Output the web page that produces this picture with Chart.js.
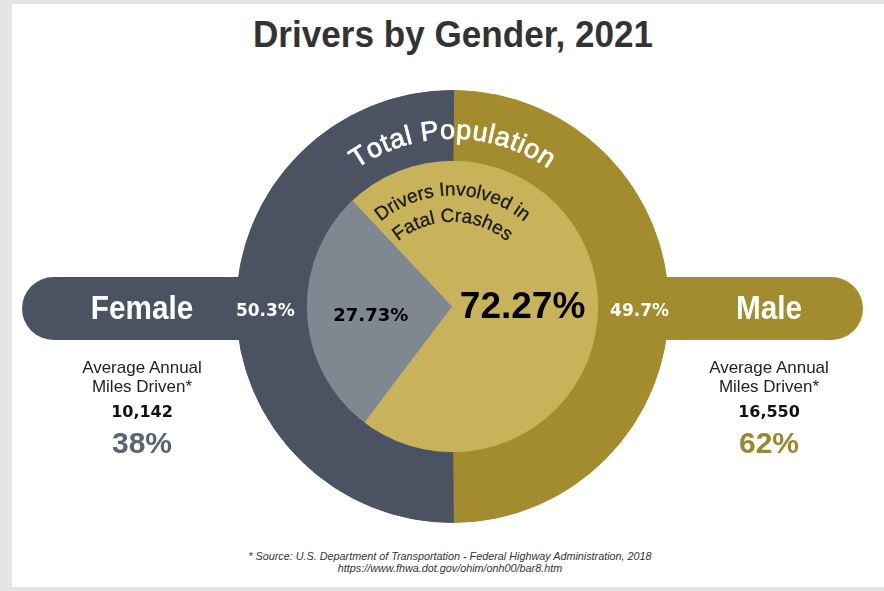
<!DOCTYPE html>
<html>
<head>
<meta charset="utf-8">
<script src="https://cdn.jsdelivr.net/npm/chart.js@4.4.1/dist/chart.umd.min.js"></script>
<style>
  body { margin: 0; background: #e5e5e5; width: 884px; height: 591px; overflow: hidden; position: relative; font-family: "Liberation Sans", Arial, sans-serif; }
  .panel { position: absolute; left: 12px; top: 4px; width: 872px; height: 583px; background: #fff; }
  .abs { position: absolute; white-space: nowrap; line-height: 1; }
  .title { left: 0; width: 906px; text-align: center; top: 14px; font: bold 36px "Liberation Sans", sans-serif; color: #333; transform: scaleX(0.975); transform-origin: 453px 0; }
  .pill { position: absolute; top: 277px; height: 63px; z-index: 1; }
  .pill.left { left: 22px; width: 431px; background: #4b5363; border-radius: 32px 0 0 32px; }
  .pill.right { left: 452px; width: 411px; background: #a38c2d; border-radius: 0 32px 32px 0; }
  #wrap { position: absolute; left: 236px; top: 90px; width: 433px; height: 433px; z-index: 2; }
  .col { position: absolute; width: 240px; text-align: center; z-index: 3; }
  .col div { position: absolute; left: 0; width: 240px; white-space: nowrap; line-height: 1; }
  .sex { top: 291px; font: bold 33px "Liberation Sans", sans-serif; color: #fff; transform: scaleX(0.9); }
  .avg1 { top: 358.6px; font-size: 17px; color: #222; }
  .avg2 { top: 377.6px; font-size: 17px; color: #222; }
  .miles { top: 403.5px; font: bold 16px "DejaVu Sans", sans-serif; color: #111; }
  .share { top: 427.6px; font: bold 30px "Liberation Sans", sans-serif; }
  .note { left: 0; width: 900px; text-align: center; top: 550px; font-style: italic; font-size: 10.8px; line-height: 12px; color: #333; }
</style>
</head>
<body>
<div class="panel"></div>
<div class="abs title">Drivers by Gender, 2021</div>
<div class="pill left"></div>
<div class="pill right"></div>
<div id="wrap"><canvas id="myChart" width="433" height="433"></canvas></div>
<div class="col" id="colLeft" style="left:22px"></div>
<div class="col" id="colRight" style="left:649px"></div>
<div class="abs note">* Source: U.S. Department of Transportation - Federal Highway Administration, 2018<br>https://www.fhwa.dot.gov/ohim/onh00/bar8.htm</div>
<script>
const genders = ['Female', 'Male'];
const populationShare = [50.3, 49.7];
const fatalCrashShare = [27.73, 72.27];
const milesDriven = [10142, 16550];
const milesShare = [38, 62];

const ringColors = ['#4b5363', '#a38c2d'];
const pieColors = ['#7f8791', '#c8b35b'];
const shareColors = ['#5c6472', '#9c8632'];

// side columns under the pills
['colLeft', 'colRight'].forEach((id, i) => {
  const col = document.getElementById(id);
  col.innerHTML =
    `<div class="sex">${genders[i]}</div>` +
    `<div class="avg1">Average Annual</div>` +
    `<div class="avg2">Miles Driven*</div>` +
    `<div class="miles">${milesDriven[i].toLocaleString('en-US')}</div>` +
    `<div class="share" style="color:${shareColors[i]}">${milesShare[i]}%</div>`;
});

function arcText(ctx, text, cx, cy, r, font, color, spacing, stroke) {
  ctx.save();
  ctx.font = font;
  ctx.fillStyle = color;
  ctx.strokeStyle = color;
  ctx.lineWidth = stroke;
  ctx.textAlign = 'center';
  ctx.textBaseline = 'alphabetic';
  const chars = [...text];
  const widths = chars.map((c) => ctx.measureText(c).width);
  const total = widths.reduce((a, b) => a + b, 0) + spacing * (chars.length - 1);
  let angle = -total / (2 * r);
  chars.forEach((c, i) => {
    const a = angle + widths[i] / (2 * r);
    ctx.save();
    ctx.translate(cx + r * Math.sin(a), cy - r * Math.cos(a));
    ctx.rotate(a);
    ctx.fillText(c, 0, 0);
    if (stroke) ctx.strokeText(c, 0, 0);
    ctx.restore();
    angle += (widths[i] + spacing) / r;
  });
  ctx.restore();
}

const labelPlugin = {
  id: 'labels',
  afterDatasetsDraw(chart) {
    const ctx = chart.ctx;
    const ring = chart.getDatasetMeta(0).data;
    const pie = chart.getDatasetMeta(1).data;
    const cx = ring[0].x, cy = ring[0].y;
    const rIn = ring[0].innerRadius, rOut = ring[0].outerRadius;
    const R = pie[0].outerRadius;

    ctx.save();
    ctx.textAlign = 'center';
    ctx.textBaseline = 'middle';
    // outer ring percentages
    ring.forEach((arc, i) => {
      const mid = (arc.startAngle + arc.endAngle) / 2;
      const r = (rIn + rOut) / 2 + 6;
      ctx.font = 'bold 17px "DejaVu Sans"';
      ctx.fillStyle = '#fff';
      ctx.fillText(populationShare[i] + '%', cx + r * Math.cos(mid), cy + r * Math.sin(mid) + 5);
    });
    // inner pie percentages
    pie.forEach((arc, i) => {
      const mid = (arc.startAngle + arc.endAngle) / 2;
      const r = R * (i === 0 ? 0.56 : 0.48);
      ctx.font = i === 0 ? 'bold 18px "DejaVu Sans"' : 'bold 37px "Liberation Sans"';
      ctx.fillStyle = '#000';
      ctx.fillText(fatalCrashShare[i] + '%', cx + r * Math.cos(mid), cy + r * Math.sin(mid) + 5);
    });
    ctx.restore();

    arcText(ctx, chart.data.datasets[0].label, cx, cy, rIn + 0.31 * (rOut - rIn), '27px "Liberation Sans"', '#fff', 0.6, 0.7);
    arcText(ctx, 'Drivers Involved in', cx, cy, R * 0.76, '19px "Liberation Sans"', '#1a1a1a', 0, 0.3);
    arcText(ctx, 'Fatal Crashes', cx, cy, R * 0.58, '19px "Liberation Sans"', '#1a1a1a', 0, 0.3);
  }
};

const ctx = document.getElementById('myChart');

const myChart = new Chart(ctx, {
  type: 'doughnut',
  data: {
    labels: genders,
    datasets: [{
      label: 'Total Population',
      data: populationShare,
      backgroundColor: ringColors,
      borderColor: ringColors,
      borderWidth: 1,
      rotation: 179.5,
      weight: 70
    }, {
      label: 'Drivers Involved in Fatal Crashes',
      data: fatalCrashShare,
      backgroundColor: pieColors,
      borderColor: pieColors,
      borderWidth: 1,
      rotation: 217,
      weight: 146.5
    }]
  },
  options: {
    responsive: false,
    animation: false,
    cutout: 0,
    events: [],
    layout: { padding: 0 },
    plugins: {
      legend: { display: false },
      tooltip: { enabled: false }
    }
  },
  plugins: [labelPlugin]
});
</script>
</body>
</html>
